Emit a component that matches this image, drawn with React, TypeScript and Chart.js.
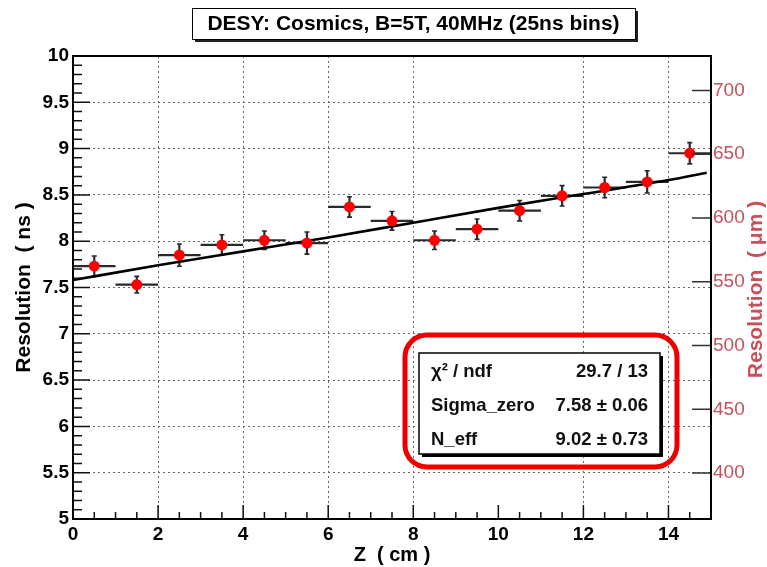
import React, { useEffect, useRef } from "react";
import { Chart, registerables } from "chart.js";

Chart.register(...registerables);

// ---- data ----
const binCenters = [0.5, 1.5, 2.5, 3.5, 4.5, 5.5, 6.5, 7.5, 8.5, 9.5, 10.5, 11.5, 12.5, 13.5, 14.5];
const binHalfWidths = [0.5, 0.5, 0.5, 0.5, 0.5, 0.5, 0.5, 0.5, 0.5, 0.5, 0.5, 0.5, 0.5, 0.5, 0.5];
const resolutionNs = [7.73, 7.53, 7.85, 7.96, 8.01, 7.98, 8.37, 8.22, 8.01, 8.13, 8.33, 8.49, 8.58, 8.64, 8.95];
const resolutionErr = [0.11, 0.09, 0.12, 0.11, 0.1, 0.12, 0.11, 0.1, 0.1, 0.11, 0.11, 0.11, 0.11, 0.12, 0.115];

const fitZ = [0, 2, 4, 6, 8, 10, 12, 14, 14.9];
const fitNs = [7.58, 7.74, 7.89, 8.04, 8.2, 8.36, 8.51, 8.66, 8.74];

const xTicks = [0, 2, 4, 6, 8, 10, 12, 14];
const yTicks = [5, 5.5, 6, 6.5, 7, 7.5, 8, 8.5, 9, 9.5, 10];
const umTicks = [400, 450, 500, 550, 600, 650, 700];

const titleText = "DESY: Cosmics, B=5T, 40MHz (25ns bins)";
const xTitle = "Z  ( cm )";
const yTitle = "Resolution  ( ns )";
const y2Title = "Resolution  ( \u03bcm )";
const statsLabels = ["\u03c7\u00b2 / ndf", "Sigma_zero", "N_eff"];
const statsValues = ["29.7 / 13", "7.58 \u00b1 0.06", "9.02 \u00b1 0.73"];

const FONT = "'Liberation Sans', Arial, Helvetica, sans-serif";
const RED_AXIS = "#c8505a";

const rootPlugin = {
  id: "rootStyle",
  beforeDraw(chart: any) {
    const { ctx, width, height } = chart;
    ctx.save();
    ctx.fillStyle = "#fff";
    ctx.fillRect(0, 0, width, height);
    ctx.restore();
  },
  beforeDatasetsDraw(chart: any) {
    const { ctx } = chart;
    const xs = chart.scales.x;
    const ys = chart.scales.y;
    ctx.save();
    ctx.strokeStyle = "#2a2a2a";
    ctx.lineWidth = 2.2;
    for (let i = 0; i < binCenters.length; i++) {
      const px = xs.getPixelForValue(binCenters[i]);
      const py = ys.getPixelForValue(resolutionNs[i]);
      const x1 = xs.getPixelForValue(binCenters[i] - binHalfWidths[i]);
      const x2 = xs.getPixelForValue(binCenters[i] + binHalfWidths[i]);
      const y1 = ys.getPixelForValue(resolutionNs[i] - resolutionErr[i]);
      const y2 = ys.getPixelForValue(resolutionNs[i] + resolutionErr[i]);
      ctx.beginPath();
      ctx.moveTo(x1, py);
      ctx.lineTo(x2, py);
      ctx.moveTo(px, y1);
      ctx.lineTo(px, y2);
      ctx.stroke();
      ctx.lineWidth = 1.6;
      ctx.beginPath();
      ctx.moveTo(px - 2.5, y1);
      ctx.lineTo(px + 2.5, y1);
      ctx.moveTo(px - 2.5, y2);
      ctx.lineTo(px + 2.5, y2);
      ctx.stroke();
      ctx.lineWidth = 2.2;
    }
    ctx.restore();
  },
  afterDraw(chart: any) {
    const { ctx } = chart;
    const ca = chart.chartArea;
    const xs = chart.scales.x;
    const ys = chart.scales.y;
    const y2s = chart.scales.y2;
    ctx.save();

    // inner ticks
    ctx.strokeStyle = "#111";
    ctx.lineWidth = 1.5;
    ctx.beginPath();
    for (let k = 0; k <= 30; k++) {
      const v = k * 0.5;
      const px = xs.getPixelForValue(v);
      const len = k % 4 === 0 ? 14 : 7;
      ctx.moveTo(px, ca.bottom);
      ctx.lineTo(px, ca.bottom - len);
    }
    for (let k = 0; k <= 50; k++) {
      const v = 5 + k * 0.1;
      const py = ys.getPixelForValue(v);
      const len = k % 5 === 0 ? 17 : 9;
      ctx.moveTo(ca.left, py);
      ctx.lineTo(ca.left + len, py);
    }
    ctx.stroke();
    ctx.strokeStyle = "#333";
    ctx.beginPath();
    for (const v of umTicks) {
      const py = y2s.getPixelForValue(v);
      ctx.moveTo(ca.right - 19, py);
      ctx.lineTo(ca.right, py);
    }
    ctx.stroke();

    // frame
    ctx.strokeStyle = "#000";
    ctx.lineWidth = 2;
    ctx.strokeRect(ca.left, ca.top, ca.right - ca.left, ca.bottom - ca.top);

    // axis titles
    ctx.fillStyle = "#000";
    ctx.font = `bold 20px ${FONT}`;
    ctx.textAlign = "center";
    ctx.textBaseline = "middle";
    ctx.fillText(xTitle, (ca.left + ca.right) / 2, 555);

    ctx.save();
    ctx.translate(24, (ca.top + ca.bottom) / 2);
    ctx.rotate(-Math.PI / 2);
    ctx.font = `bold 21px ${FONT}`;
    ctx.fillText(yTitle, 0, 0);
    ctx.restore();

    ctx.save();
    ctx.translate(756, (ca.top + ca.bottom) / 2 + 2);
    ctx.rotate(-Math.PI / 2);
    ctx.font = `bold 21px ${FONT}`;
    ctx.fillStyle = RED_AXIS;
    ctx.fillText(y2Title, 0, 0);
    ctx.restore();

    // title box
    const tb = { x: 192, y: 8, w: 443, h: 31 };
    ctx.fillStyle = "#222";
    ctx.fillRect(tb.x + 3, tb.y + 3, tb.w, tb.h);
    ctx.fillStyle = "#fff";
    ctx.fillRect(tb.x, tb.y, tb.w, tb.h);
    ctx.strokeStyle = "#000";
    ctx.lineWidth = 1;
    ctx.strokeRect(tb.x + 0.5, tb.y + 0.5, tb.w, tb.h);
    ctx.fillStyle = "#000";
    ctx.font = `bold 21px ${FONT}`;
    ctx.textAlign = "center";
    ctx.fillText(titleText, tb.x + tb.w / 2, tb.y + tb.h / 2 + 1);

    // stats box
    const sb = { x: 419, y: 353, w: 241, h: 101 };
    ctx.fillStyle = "#000";
    ctx.fillRect(sb.x + 3, sb.y + 3, sb.w, sb.h);
    ctx.fillStyle = "#fff";
    ctx.fillRect(sb.x, sb.y, sb.w, sb.h);
    ctx.strokeStyle = "#000";
    ctx.lineWidth = 1.5;
    ctx.strokeRect(sb.x, sb.y, sb.w, sb.h);
    ctx.font = `bold 18.5px ${FONT}`;
    ctx.fillStyle = "#111";
    const rowsY = [372, 406, 440];
    for (let i = 0; i < statsLabels.length; i++) {
      ctx.textAlign = "left";
      ctx.fillText(statsLabels[i], 431, rowsY[i]);
      ctx.textAlign = "right";
      ctx.fillText(statsValues[i], 648, rowsY[i]);
    }

    // red highlight
    ctx.strokeStyle = "#ee0000";
    ctx.lineWidth = 5;
    ctx.beginPath();
    (ctx as any).roundRect(405, 335, 272, 132, 22);
    ctx.stroke();

    ctx.restore();
  },
};

export default function App() {
  const ref = useRef<HTMLCanvasElement | null>(null);

  useEffect(() => {
    const canvas = ref.current;
    if (!canvas) return;
    const gridWidth = (ctx: any) => {
      const v = ctx.tick ? ctx.tick.value : null;
      return v === 0 || v === 5 || v === 10 ? 0 : 1;
    };
    const chart = new Chart(canvas, {
      type: "scatter",
      data: {
        datasets: [
          {
            type: "scatter",
            data: binCenters.map((x, i) => ({ x, y: resolutionNs[i] })),
            backgroundColor: "#ff0000",
            borderWidth: 0,
            pointRadius: 5.5,
            pointHoverRadius: 5.5,
            xAxisID: "x",
            yAxisID: "y",
          },
          {
            type: "line",
            data: fitZ.map((x, i) => ({ x, y: fitNs[i] })),
            borderColor: "#000",
            borderWidth: 2.6,
            pointRadius: 0,
            fill: false,
            cubicInterpolationMode: "monotone",
            xAxisID: "x",
            yAxisID: "y",
          } as any,
        ],
      },
      options: {
        responsive: false,
        animation: false,
        devicePixelRatio: 1,
        layout: { padding: { top: 56, left: 0, right: 0, bottom: 0 } },
        plugins: {
          legend: { display: false },
          tooltip: { enabled: false },
          title: { display: false },
        },
        events: [],
        scales: {
          x: {
            type: "linear",
            position: "bottom",
            min: 0,
            max: 15,
            afterFit: (s: any) => {
              s.height = 48;
            },
            afterBuildTicks: (s: any) => {
              s.ticks = xTicks.map((v) => ({ value: v }));
            },
            grid: { drawTicks: false, color: "#666", lineWidth: gridWidth },
            border: { display: false, dash: [2, 3] },
            ticks: {
              padding: 4,
              autoSkip: false,
              maxRotation: 0,
              color: "#000",
              font: { family: FONT, size: 19, weight: "bold" },
              callback: (v: any) => String(v),
            },
          },
          y: {
            type: "linear",
            position: "left",
            min: 5,
            max: 10,
            afterFit: (s: any) => {
              s.width = 73;
            },
            afterBuildTicks: (s: any) => {
              s.ticks = yTicks.map((v) => ({ value: v }));
            },
            grid: { drawTicks: false, color: "#666", lineWidth: gridWidth },
            border: { display: false, dash: [2, 3] },
            ticks: {
              padding: 4,
              autoSkip: false,
              color: "#000",
              font: { family: FONT, size: 19, weight: "bold" },
              callback: (v: any) => String(v),
            },
          },
          y2: {
            type: "linear",
            position: "right",
            min: 364,
            max: 727,
            afterFit: (s: any) => {
              s.width = 56;
            },
            afterBuildTicks: (s: any) => {
              s.ticks = umTicks.map((v) => ({ value: v }));
            },
            grid: { display: false, drawTicks: false },
            border: { display: false },
            ticks: {
              padding: 2,
              autoSkip: false,
              color: RED_AXIS,
              font: { family: FONT, size: 19 },
              callback: (v: any) => String(v),
            },
          },
        },
      } as any,
      plugins: [rootPlugin],
    });
    return () => chart.destroy();
  }, []);

  return (
    <div style={{ position: "absolute", left: 0, top: 0, width: 767, height: 567 }}>
      <canvas ref={ref} width={767} height={567} style={{ display: "block" }} />
    </div>
  );
}
